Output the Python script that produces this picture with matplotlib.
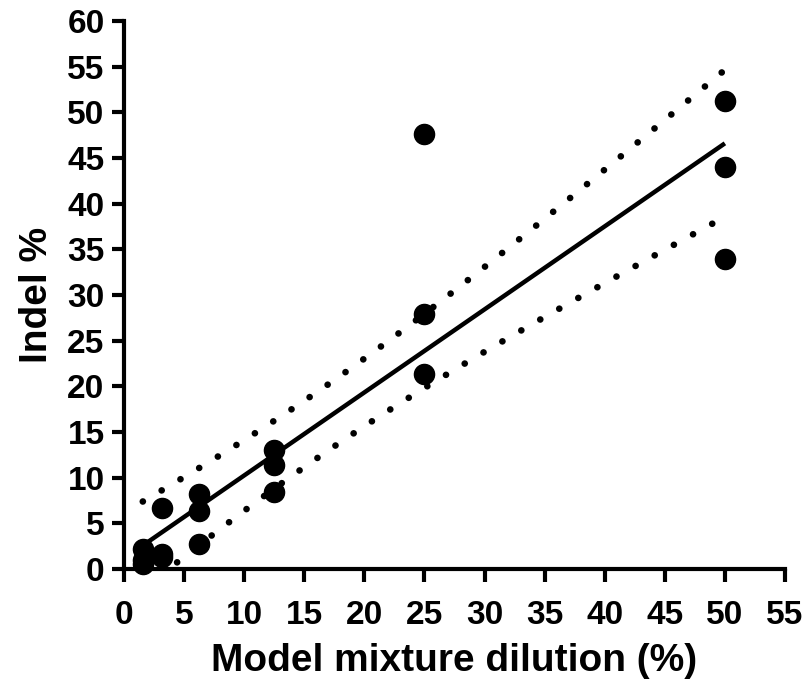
import numpy as np
import matplotlib
matplotlib.use("Agg")
import matplotlib.pyplot as plt

# Data
dilution = [1.5625, 1.5625, 1.5625, 3.125, 3.125, 3.125, 6.25, 6.25, 6.25,
            12.5, 12.5, 12.5, 25, 25, 25, 50, 50, 50]
indel = [2.2, 1.0, 0.5, 6.7, 1.6, 1.3, 8.2, 6.3, 2.7,
         13.0, 11.4, 8.4, 47.6, 27.9, 21.3, 51.2, 44.0, 33.9]
xticks = list(range(0, 60, 5))
yticks = list(range(0, 65, 5))
t_crit = 2.1199  # t(0.975, df=16)

x = np.array(dilution)
y = np.array(indel)
n = len(x)
slope, intercept = np.polyfit(x, y, 1)
resid = y - (slope * x + intercept)
s = np.sqrt(np.sum(resid ** 2) / (n - 2))
sxx = np.sum((x - x.mean()) ** 2)
xf = np.linspace(x.min(), x.max(), 300)
yf = slope * xf + intercept
hw = t_crit * s * np.sqrt(1.0 / n + (xf - x.mean()) ** 2 / sxx)

plt.rcParams['font.family'] = ['Liberation Sans', 'DejaVu Sans']
plt.rcParams['font.weight'] = 'bold'

fig = plt.figure(figsize=(8.08, 6.83), dpi=100)
ax = fig.add_axes([0.1535, 0.1669, 0.9715 - 0.1535, 0.9693 - 0.1669])

ax.plot(xf, yf, color='black', lw=3.2, solid_capstyle='butt', zorder=2)
dot = (0, (0.01, 3.27))
ax.plot(xf, yf + hw, color='black', lw=4.8, linestyle=dot, dash_capstyle='round', zorder=2)
ax.plot(xf, yf - hw, color='black', lw=4.8, linestyle=dot, dash_capstyle='round', zorder=2)
ax.plot(x, y, 'o', color='black', markersize=14.5, zorder=3, clip_on=False)

ax.set_xlim(0, 55)
ax.set_ylim(0, 60)
ax.set_xticks(xticks)
ax.set_yticks(yticks)
for sp in ['top', 'right']:
    ax.spines[sp].set_visible(False)
for sp in ['left', 'bottom']:
    ax.spines[sp].set_linewidth(3)
ax.tick_params(width=3, length=9, labelsize=24, direction='out')
ax.tick_params(axis='x', pad=13)
ax.tick_params(axis='y', pad=5)
for lab in ax.get_xticklabels() + ax.get_yticklabels():
    lab.set_fontweight('bold')

ax.set_xlabel('Model mixture dilution (%)', fontsize=28, fontweight='bold', labelpad=9)
ax.set_ylabel('Indel %', fontsize=28, fontweight='bold', labelpad=9)

fig.savefig('out.png', dpi=100)
